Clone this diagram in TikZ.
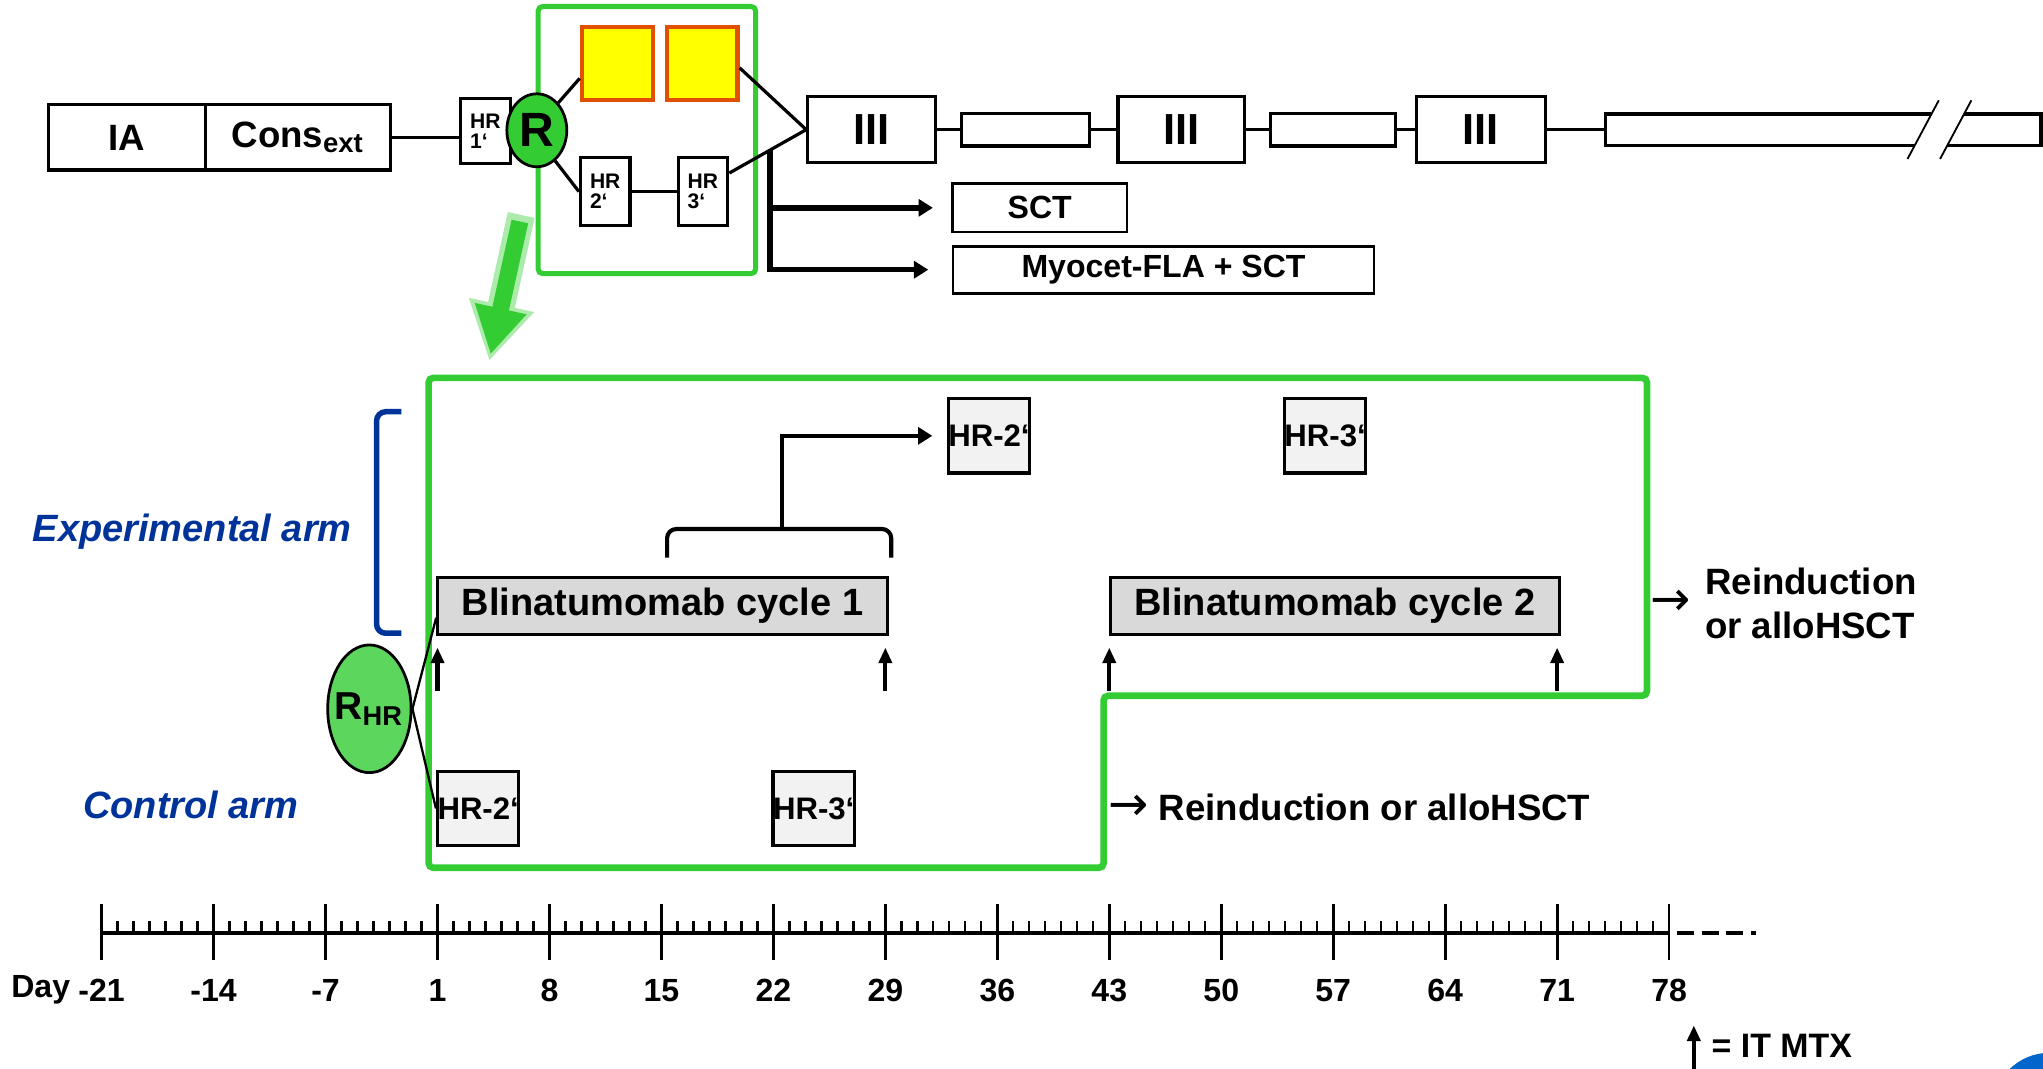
\documentclass[tikz,border=0pt]{standalone}
\usepackage{fontspec}
\setmainfont{Liberation Sans}
\newfontfamily\arrowfont{DejaVu Sans}
\usepackage{tikz}
\usetikzlibrary{arrows.meta, positioning, shapes.geometric, calc}
\definecolor{framegreen}{RGB}{51,204,51}
\definecolor{randgreen}{RGB}{92,214,92}
\definecolor{blockyellow}{RGB}{255,255,0}
\definecolor{blockorange}{RGB}{224,80,0}
\definecolor{armblue}{RGB}{0,51,153}
\definecolor{blingray}{RGB}{217,217,217}
\definecolor{hrgray}{RGB}{242,242,242}
\definecolor{logoblue}{RGB}{0,102,204}
\newcommand{\fsz}[1]{\fontsize{#1}{#1}\selectfont\bfseries}
\newcommand{\goesto}{{\arrowfont\fontsize{10.5}{10.5}\selectfont\mdseries →}}
\tikzset{
  phase/.style={draw, line width=0.7pt, fill=white, inner sep=0pt,
                minimum height=0.50cm, font=\fsz{8}},
  spacer/.style={draw, line width=0.7pt, inner sep=0pt, minimum height=0.25cm},
  hrtiny/.style={draw, line width=0.7pt, fill=white, inner sep=0pt, align=left,
                 minimum width=0.38cm, font=\fontsize{4.6}{4.3}\selectfont\bfseries},
  block/.style={draw=blockorange, fill=blockyellow, line width=0.9pt,
                minimum width=0.55cm, minimum height=0.56cm},
  randnode/.style={ellipse, draw, line width=0.6pt, inner sep=0pt},
  option/.style={draw, line width=0.6pt, inner sep=0pt, minimum height=0.37cm,
                 font=\fsz{7}},
  blin/.style={draw, line width=0.7pt, fill=blingray, inner sep=0pt,
               minimum width=3.45cm, minimum height=0.44cm, font=\fsz{8.3}},
  hrbox/.style={draw, line width=0.7pt, fill=hrgray, inner sep=0pt,
                minimum width=0.62cm, minimum height=0.57cm, font=\fsz{6.8}},
  armlabel/.style={text=armblue, font=\fontsize{8.3}{8.3}\selectfont\bfseries\itshape},
  outcome/.style={font=\fsz{8}, inner sep=0pt},
  daylbl/.style={font=\fsz{7}, inner sep=0pt},
  fatarrow/.style={line width=1.2pt, -{Triangle[length=0.11cm, width=0.13cm]}},
  mtx/.style={line width=0.9pt, -{Triangle[length=0.12cm, width=0.10cm]}},
  greenframe/.style={draw=framegreen, rounded corners=1pt},
}

\begin{document}
\begin{tikzpicture}
  \useasboundingbox (0,0) rectangle (15.68,-8.20);

  % Zoom frame round the randomisation
  \draw[greenframe, line width=1.1pt] (4.13,-0.05) rectangle (5.80,-2.10);

  % Top line of the protocol
  \node[phase, minimum width=1.21cm] (ia) at (0.975,-1.055) {IA};
  \node[phase, minimum width=1.42cm] (cons) at (2.29,-1.055) {Cons\textsubscript{ext}};
  \node[hrtiny, minimum height=0.50cm] (hr1) at (3.725,-1.005) {HR\\1‘};
  \node[randnode, fill=framegreen, minimum width=0.46cm, minimum height=0.56cm,
        font=\fsz{10.5}] (r) at (4.12,-1.00) {R};
  \node[block] (blockA) at (4.74,-0.49) {};
  \node[block, minimum width=0.54cm] (blockB) at (5.39,-0.49) {};
  \node[hrtiny, minimum height=0.52cm] (hr2) at (4.645,-1.47) {HR\\2‘};
  \node[hrtiny, minimum height=0.52cm] (hr3) at (5.395,-1.47) {HR\\3‘};
  \node[phase, minimum width=0.98cm, minimum height=0.51cm, font=\fsz{9.5}] (maintA) at (6.69,-0.995) {III};
  \node[spacer, minimum width=0.98cm] (gapA) at (7.87,-0.995) {};
  \node[phase, minimum width=0.97cm, minimum height=0.51cm, font=\fsz{9.5}] (maintB) at (9.065,-0.995) {III};
  \node[spacer, minimum width=0.96cm] (gapB) at (10.23,-0.995) {};
  \node[phase, minimum width=0.99cm, minimum height=0.51cm, font=\fsz{9.5}] (maintC) at (11.365,-0.995) {III};
  \coordinate (tail) at (12.32,-0.995);
  \node[option, minimum width=1.34cm] (sct) at (7.98,-1.595) {SCT};
  \node[option, minimum width=3.23cm, minimum height=0.36cm] (myo) at (8.93,-2.07) {Myocet-FLA + SCT};

  \draw[line width=0.7pt] (cons.east) -- (cons.east -| hr1.west);
  \draw[line width=0.7pt] (r.52) -- (blockA.201);
  \draw[line width=0.7pt] (r.-59) -- (hr2.west);
  \draw[line width=0.7pt] (hr2) -- (hr3);
  \draw[line width=0.7pt] (blockB.354) -- (maintA.west) -- (hr3.35);
  \draw[line width=0.7pt] (maintA) -- (gapA) -- (maintB) -- (gapB) -- (maintC) -- (tail);
  \coordinate (split) at ($(hr3.35)!0.53!(maintA.west)$);
  \draw[fatarrow, shorten >=0.14cm] (split) |- (sct.west);
  \draw[fatarrow, shorten >=0.18cm] (split) |- (myo.west);

  % Open-ended last block
  \draw[line width=0.7pt] (14.82,-0.875) -- (tail |- 0,-0.875) -- (tail |- 0,-1.115) -- (14.70,-1.115);
  \draw[line width=0.7pt] (15.07,-0.875) -- (15.665,-0.875) -- (15.665,-1.115) -- (14.95,-1.115);
  \draw[line width=0.4pt] (14.64,-1.22) -- (14.88,-0.77);
  \draw[line width=0.4pt] (14.89,-1.22) -- (15.13,-0.77);

  % Zoom arrow
  \coordinate (zoomtail) at (3.99,-1.70);
  \coordinate (zoomtip) at (3.765,-2.72);
  \draw[framegreen!40, line width=0.21cm, -{Triangle[length=0.44cm, width=0.48cm]}]
    ($(zoomtail)+(0.01,0.05)$) -- ($(zoomtip)+(-0.01,-0.05)$);
  \draw[framegreen, line width=0.13cm, -{Triangle[length=0.36cm, width=0.38cm]}] (zoomtail) -- (zoomtip);

  % Blinatumomab window
  \draw[greenframe, line width=1.45pt] (3.29,-2.90) -- (12.64,-2.90) -- (12.64,-5.34)
    -- (8.47,-5.34) -- (8.47,-6.66) -- (3.29,-6.66) -- cycle;

  \draw[armblue, line width=1.2pt, rounded corners=2pt] (3.08,-3.16) -- (2.89,-3.16) -- (2.89,-4.86) -- (3.08,-4.86);
  \node[armlabel] (exparm) at (1.475,-4.08) {Experimental arm};
  \node[armlabel] (ctlarm) at (1.465,-6.18) {Control arm};

  \node[randnode, fill=randgreen, minimum width=0.64cm, minimum height=0.98cm,
        label={[font=\fsz{8.5}]center:R\textsubscript{HR}}] (rhr) at (2.835,-5.44) {};

  \node[blin] (blinA) at (5.085,-4.65) {Blinatumomab cycle 1};
  \node[blin] (blinB) at (10.245,-4.65) {Blinatumomab cycle 2};
  \node[hrbox] (exphrA) at (7.59,-3.345) {HR-2‘};
  \node[hrbox] (exphrB) at (10.17,-3.345) {HR-3‘};
  \node[hrbox] (ctlhrA) at (3.67,-6.205) {HR-2‘};
  \node[hrbox] (ctlhrB) at (6.245,-6.205) {HR-3‘};

  \draw[line width=0.5pt] (rhr.east) -- (blinA.183);
  \draw[line width=0.5pt] (rhr.east) -- (ctlhrA.west);

  \draw[line width=0.9pt, rounded corners=2pt] (5.12,-4.28) -- (5.12,-4.06) -- (6.84,-4.06) -- (6.84,-4.28);
  \coordinate (brk) at (6.00,-4.06);
  \draw[fatarrow, line width=0.9pt, shorten >=0.11cm] (brk) |- (exphrA.west);

  % Outcomes
  \node[outcome, align=left, anchor=west, font=\fontsize{8}{9.7}\selectfont\bfseries] (expout) at (13.08,-4.63) {Reinduction\\or alloHSCT};
  \node[outcome, left=0.1cm of expout] (exparrow) {\goesto};
  \node[outcome, anchor=west] (ctlout) at (8.50,-6.20) {\goesto\ Reinduction or alloHSCT};

  % Timeline
  \draw[line width=0.7pt] (0.78,-7.16) coordinate (t0) -- (12.81,-7.16) coordinate (t1);
  \draw[line width=0.7pt, dash pattern=on 0.13cm off 0.06cm] ([xshift=0.06cm]t1) -- (13.48,-7.16);
  \foreach \d [count=\i from 0] in {-21,-14,-7,1,8,15,22,29,36,43,50,57,64,71,78} {
    \draw[line width=0.6pt] (0.78+\i*0.8593,-6.94) -- ++(0,-0.43);
    \node[daylbl] (day\i) at (0.78+\i*0.8593,-7.60) {\d};
  }
  \foreach \i in {0,...,13}
    \foreach \k in {1,...,6}
      \draw[line width=0.5pt] (0.78+\i*0.8593+\k*0.12276,-7.16) -- ++(0,0.09);
  \node[daylbl, anchor=base east] (daytag) at ([xshift=-0.05cm, yshift=0.03cm]day0.base west) {Day};

  % IT MTX on days 1, 29, 43, 71
  \foreach \i in {3,7,9,13}
    \draw[mtx] (0.78+\i*0.8593,-5.30) -- ++(0,0.33);

  \node[outcome, font=\fsz{7.4}, anchor=west] (mtxkey) at (13.13,-8.03) {= IT MTX};
  \coordinate (keyfoot) at (13.00,-8.22);
  \draw[mtx] (keyfoot) -- ++(0,0.35);

  \begin{scope}
    \clip (0,0) rectangle (15.68,-8.20);
    \fill[logoblue] (15.73,-8.52) circle (0.44);
  \end{scope}
\end{tikzpicture}
\end{document}
